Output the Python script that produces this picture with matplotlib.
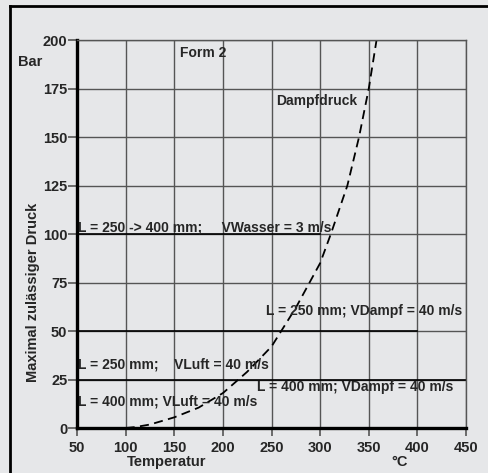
import numpy as np
import matplotlib.pyplot as plt
from matplotlib.lines import Line2D

plt.rcParams['font.family'] = ['Liberation Sans', 'DejaVu Sans']
plt.rcParams['font.weight'] = 'bold'

# vapour pressure curve
temps = [100, 110, 125, 150, 175, 200, 216, 225, 250, 275, 300, 311, 328, 340, 350, 358]
press = [0, 0.5, 1.8, 5.5, 10.5, 18, 25, 29, 42, 62, 85, 100, 125, 150, 175, 200]

xticks = [50, 100, 150, 200, 250, 300, 350, 400, 450]
yticks = [0, 25, 50, 75, 100, 125, 150, 175, 200]

# limit lines: (pressure, x start, x end)
limits = [(100, 50, 300), (50, 50, 400), (25, 50, 450)]
notes = [
    (51, 101.5, "L = 250 -> 400 mm;     VWasser = 3 m/s"),
    (244, 58.2, "L = 250 mm; VDampf = 40 m/s"),
    (51, 30.8, "L = 250 mm;    VLuft = 40 m/s"),
    (235, 19.1, "L = 400 mm; VDampf = 40 m/s"),
    (51, 11.5, "L = 400 mm; VLuft = 40 m/s"),
]

bg = '#e6e7e9'
grid = '#555555'
txt = '#262626'
fs = 10

fig = plt.figure(figsize=(4.89, 4.73), dpi=100, facecolor=bg)
ax = fig.add_axes([0.1575, 0.0951, 0.7955, 0.8203], facecolor=bg)

ax.set_xlim(50, 450)
ax.set_ylim(0, 200)
ax.set_xticks(xticks)
ax.set_yticks(yticks)
ax.grid(True, color=grid, lw=1.0)
ax.set_axisbelow(True)

for y, x0, x1 in limits:
    ax.plot([x0, x1], [y, y], color='black', lw=1.2)

ax.plot(temps, press, color='black', lw=1.3, linestyle=(0, (5, 3)))

for x, y, s in notes:
    ax.text(x, y, s, fontsize=fs, fontweight='bold', va='baseline', color=txt)

ax.text(156, 191, "Form 2", fontsize=fs, fontweight='bold', color=txt)
ax.text(254.5, 166.5, "Dampfdruck", fontsize=fs, fontweight='bold', color=txt)

for s in ['left', 'bottom']:
    ax.spines[s].set_linewidth(2.4)
    ax.spines[s].set_color('black')
for s in ['top', 'right']:
    ax.spines[s].set_linewidth(1.0)
    ax.spines[s].set_color(grid)

ax.tick_params(axis='y', direction='out', length=6.5, width=1.2, color=grid,
               pad=0.5, labelsize=10.5, labelcolor=txt)
ax.tick_params(axis='x', direction='out', length=6, width=1.2, color=grid,
               pad=3.5, labelsize=10.5, labelcolor=txt)
for lab in ax.get_xticklabels() + ax.get_yticklabels():
    lab.set_fontweight('bold')

fig.text(0.0675, 0.3816, "Maximal zulässiger Druck", rotation=90, fontsize=10.5,
         fontweight='bold', ha='center', va='center', color=txt)
fig.text(0.037, 0.869, "Bar", fontsize=10.5, fontweight='bold', va='center', color=txt)
fig.text(0.3415, 0.014, "Temperatur", fontsize=10.5, fontweight='bold', ha='center', color=txt)
fig.text(0.818, 0.014, "°C", fontsize=10.5, fontweight='bold', ha='center', color=txt)

# frame lines at top and left of the picture
fig.add_artist(Line2D([10 / 489, 10 / 489], [0, 1 - 6 / 473], transform=fig.transFigure,
                      color='black', lw=2.0))
fig.add_artist(Line2D([10 / 489, 1], [1 - 6 / 473, 1 - 6 / 473], transform=fig.transFigure,
                      color='black', lw=2.0))

fig.savefig('out.png', dpi=100, facecolor=bg)
